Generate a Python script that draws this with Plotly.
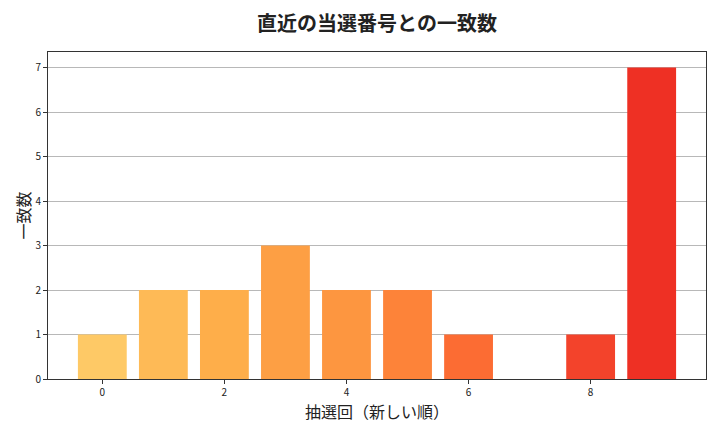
import plotly.graph_objects as go

draws = list(range(10))
matches = [1, 2, 2, 3, 2, 2, 1, 0, 1, 7]
colors = ["#FEC966", "#FEBA56", "#FEAE4A", "#FD9F44", "#FD9640",
          "#FD8339", "#FC6C33", "#F85A2D", "#F3432B", "#EE3024"]
x_ticks = [0, 2, 4, 6, 8]
y_ticks = [0, 1, 2, 3, 4, 5, 6, 7]

FONT = "Noto Sans CJK JP"

fig = go.Figure(go.Bar(
    x=draws, y=matches, width=0.8,
    marker=dict(color=colors, line=dict(width=0)),
    hoverinfo="skip",
))

fig.update_layout(
    width=720, height=432,
    margin=dict(l=48, r=14, t=52, b=53, autoexpand=False),
    paper_bgcolor="white", plot_bgcolor="white",
    font=dict(family=FONT, color="#222"),
    title=dict(text="<b>直近の当選番号との一致数</b>", x=0.5, xanchor="center",
               xref="paper", y=1 - 24 / 432, yref="container", yanchor="middle",
               automargin=False,
               font=dict(size=20, family=FONT, color="#222")),
    showlegend=False,
)
fig.update_xaxes(
    range=[-0.89, 9.89], tickvals=x_ticks, ticktext=[str(v) for v in x_ticks],
    showgrid=False, zeroline=False, automargin=False,
    showline=True, linecolor="#333", linewidth=1, mirror=True,
    ticks="outside", ticklen=4, tickcolor="#333", tickfont=dict(size=10),
    title=dict(text="抽選回（新しい順）", font=dict(size=16), standoff=4),
)
fig.update_yaxes(
    range=[0, 7.35], tickvals=y_ticks, ticktext=[str(v) for v in y_ticks],
    showgrid=True, gridcolor="rgba(176,176,176,0.9)", gridwidth=1, zeroline=False,
    automargin=False,
    showline=True, linecolor="#333", linewidth=1, mirror=True,
    ticks="outside", ticklen=4, tickcolor="#333", tickfont=dict(size=10),
    title=dict(text="一致数", font=dict(size=16), standoff=0),
    layer="above traces",
)

fig.write_html("out.html", config={"displayModeBar": False},
               post_script="document.body.style.margin='0';")
